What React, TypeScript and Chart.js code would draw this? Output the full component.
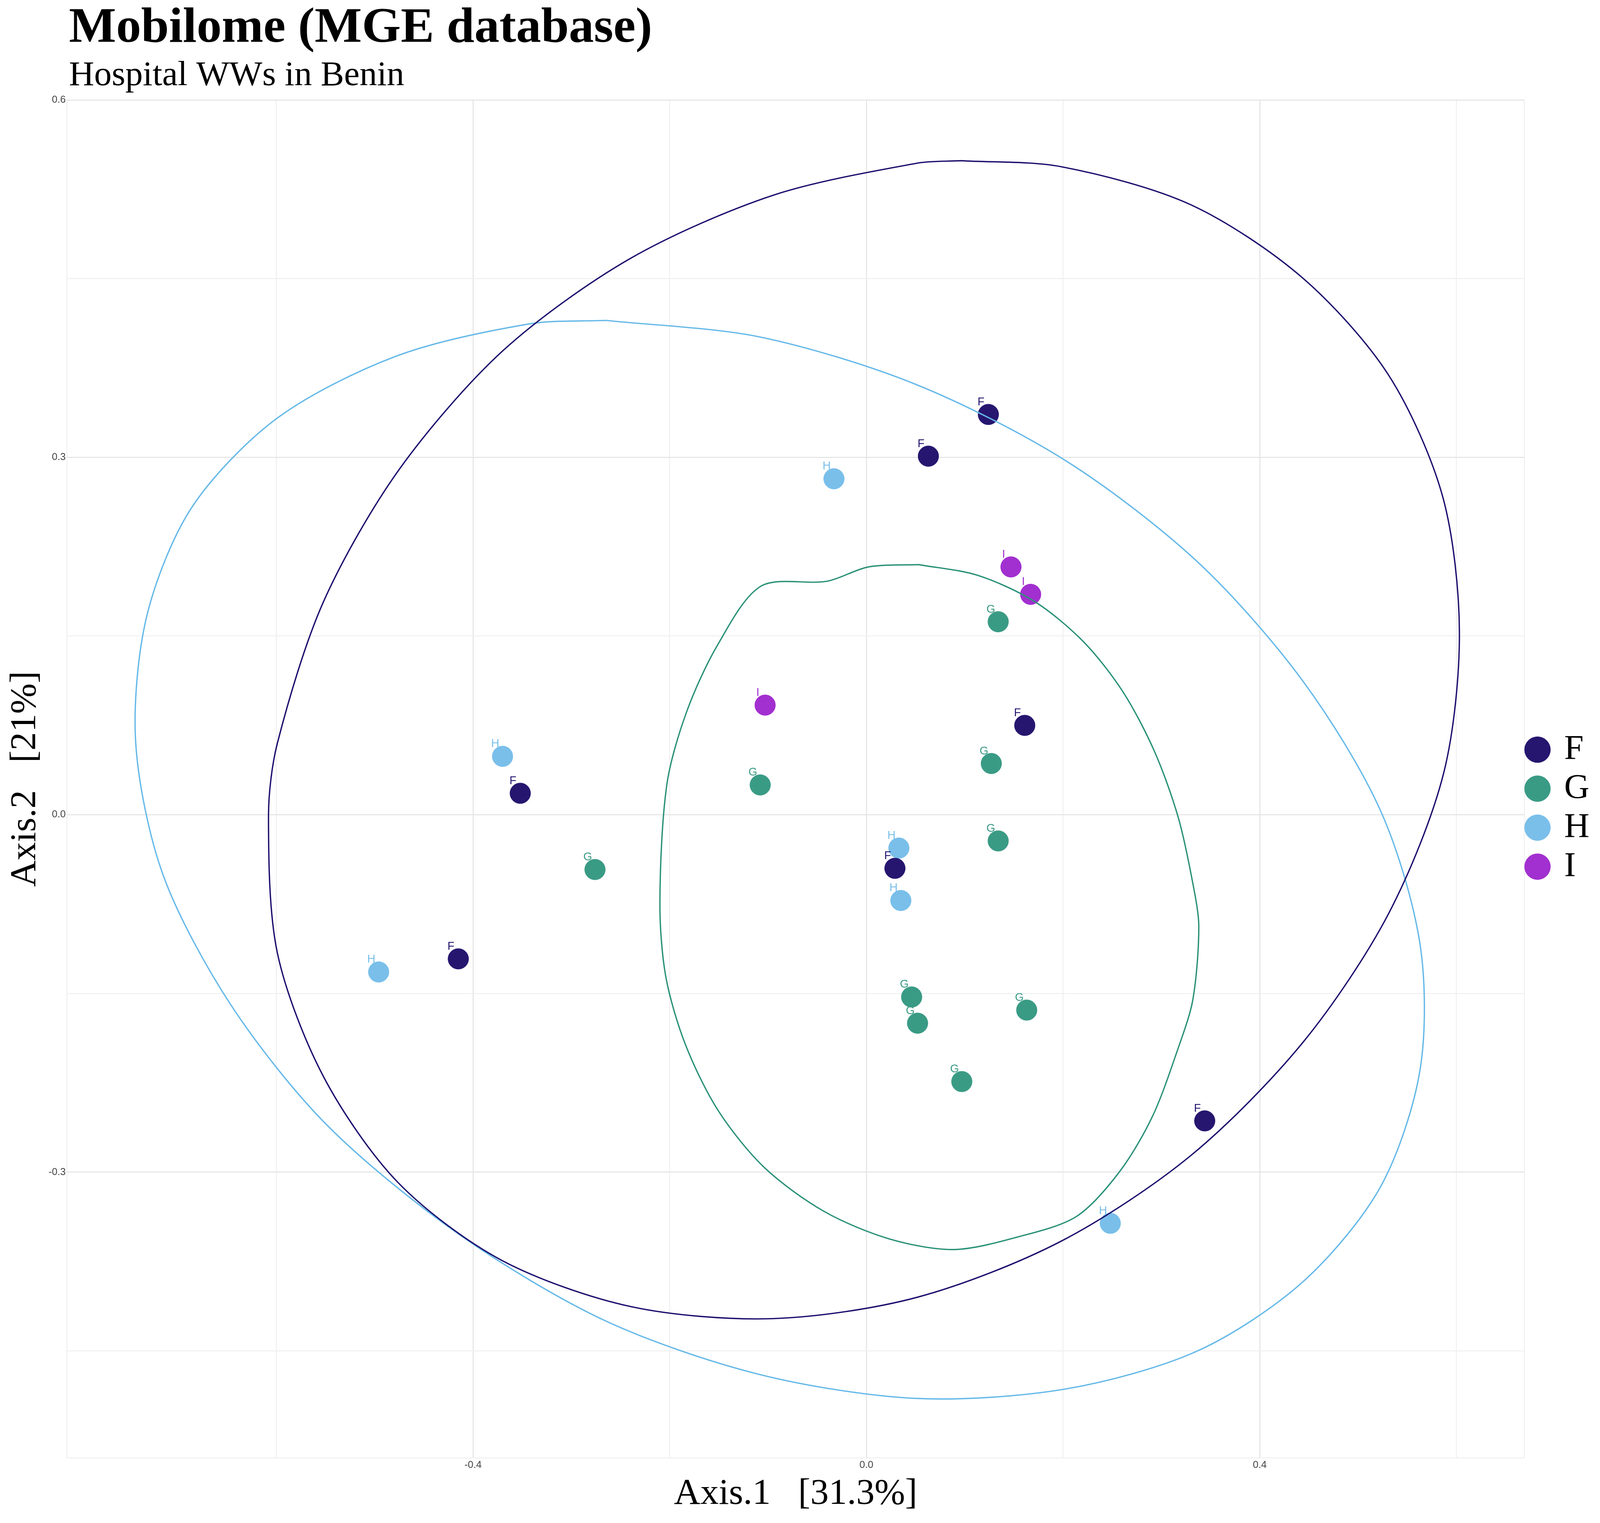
import { useEffect, useRef } from 'react';
import { Chart, registerables } from 'chart.js';

Chart.register(...registerables);

const groups = ['F', 'G', 'H', 'I'];
const pointColors = ['#26166f', '#3a9b85', '#79bfea', '#a22fcf'];
const ellipseColors = ['#1c0f6e', '#2a9178', '#66b9e8'];

const pointsF = [
  { x: 0.124, y: 0.336 }, { x: 0.063, y: 0.301 }, { x: 0.161, y: 0.075 },
  { x: -0.352, y: 0.018 }, { x: 0.029, y: -0.045 }, { x: -0.415, y: -0.121 },
  { x: 0.344, y: -0.257 },
];
const pointsG = [
  { x: 0.134, y: 0.162 }, { x: 0.127, y: 0.043 }, { x: -0.108, y: 0.025 },
  { x: 0.134, y: -0.022 }, { x: -0.276, y: -0.046 }, { x: 0.046, y: -0.153 },
  { x: 0.052, y: -0.175 }, { x: 0.163, y: -0.164 }, { x: 0.097, y: -0.224 },
];
const pointsH = [
  { x: -0.033, y: 0.282 }, { x: -0.37, y: 0.049 }, { x: 0.033, y: -0.028 },
  { x: 0.035, y: -0.072 }, { x: -0.496, y: -0.132 }, { x: 0.248, y: -0.343 },
];
const pointsI = [
  { x: 0.147, y: 0.208 }, { x: 0.167, y: 0.185 }, { x: -0.103, y: 0.092 },
];

const ellipseF = [
  [0.096, 0.549], [0.198, 0.544], [0.33, 0.512], [0.443, 0.451], [0.531, 0.369],
  [0.586, 0.267], [0.603, 0.153], [0.587, 0.035], [0.531, -0.083], [0.444, -0.191],
  [0.33, -0.286], [0.198, -0.358], [0.052, -0.405], [-0.095, -0.423], [-0.239, -0.413],
  [-0.371, -0.374], [-0.476, -0.309], [-0.552, -0.22], [-0.599, -0.116], [-0.608, -0.001],
  [-0.599, 0.06], [-0.552, 0.179], [-0.475, 0.29], [-0.369, 0.39], [-0.24, 0.467],
  [-0.095, 0.52], [0.052, 0.547], [0.096, 0.549],
];
const ellipseG = [
  [0.053, 0.21], [0.113, 0.201], [0.171, 0.179], [0.221, 0.145], [0.261, 0.103],
  [0.293, 0.053], [0.317, -0.002], [0.332, -0.058], [0.338, -0.094], [0.332, -0.155],
  [0.317, -0.196], [0.291, -0.253], [0.258, -0.299], [0.214, -0.337], [0.156, -0.354],
  [0.089, -0.365], [0.023, -0.356], [-0.043, -0.333], [-0.104, -0.296], [-0.151, -0.248],
  [-0.184, -0.193], [-0.204, -0.136], [-0.21, -0.074], [-0.203, 0.025], [-0.183, 0.086],
  [-0.151, 0.143], [-0.107, 0.192], [-0.04, 0.196], [0.002, 0.208], [0.053, 0.21],
];
const ellipseH = [
  [-0.265, 0.415], [-0.108, 0.401], [0.051, 0.361], [0.203, 0.297], [0.337, 0.212],
  [0.444, 0.112], [0.523, 0.003], [0.563, -0.109], [0.563, -0.214], [0.523, -0.312],
  [0.444, -0.392], [0.337, -0.45], [0.203, -0.482], [0.051, -0.49], [-0.108, -0.47],
  [-0.265, -0.425], [-0.413, -0.353], [-0.548, -0.261], [-0.646, -0.16], [-0.715, -0.051],
  [-0.743, 0.06], [-0.732, 0.166], [-0.686, 0.258], [-0.599, 0.333], [-0.478, 0.385],
  [-0.343, 0.412], [-0.265, 0.415],
];

const SERIF = '"Liberation Serif", "DejaVu Serif", serif';
const SANS = '"Liberation Sans", Arial, sans-serif';

const toXY = (arr: number[][]) => arr.map(([x, y]) => ({ x, y }));

export default function App() {
  const canvasRef = useRef<HTMLCanvasElement>(null);
  const chartRef = useRef<Chart | null>(null);

  useEffect(() => {
    document.body.style.margin = '0';
    if (!canvasRef.current) return;
    if (chartRef.current) chartRef.current.destroy();
    const ctx = canvasRef.current.getContext('2d');
    if (!ctx) return;

    // scale sizes to the real CSS viewport width
    const s = window.innerWidth / 4800;

    const extras = {
      id: 'extras',
      afterDatasetsDraw(chart: any) {
        const c = chart.ctx;
        c.save();
        c.font = `${34 * s}px ${SANS}`;
        c.textAlign = 'center';
        c.textBaseline = 'bottom';
        chart.data.datasets.forEach((ds: any, i: number) => {
          if (!ds.groupLabel) return;
          const meta = chart.getDatasetMeta(i);
          c.fillStyle = ds.backgroundColor;
          meta.data.forEach((el: any) => c.fillText(ds.groupLabel, el.x - 22 * s, el.y - 20 * s));
        });
        c.restore();
      },
      afterDraw(chart: any) {
        const c = chart.ctx;
        const left = chart.chartArea.left + 6 * s;
        c.save();
        c.fillStyle = '#000';
        c.textAlign = 'left';
        c.textBaseline = 'alphabetic';
        c.font = `bold ${150 * s}px ${SERIF}`;
        c.fillText('Mobilome (MGE database)', left, 125 * s);
        c.font = `${105 * s}px ${SERIF}`;
        c.fillText('Hospital WWs in Benin', left, 255 * s);
        c.restore();
      },
    };

    const pointSets = [pointsF, pointsG, pointsH, pointsI];
    const ellipses = [ellipseF, ellipseG, ellipseH];

    chartRef.current = new Chart(ctx, {
      type: 'scatter',
      data: {
        datasets: [
          ...ellipses.map((e, i) => ({
            label: 'ellipse' + groups[i],
            data: toXY(e),
            showLine: true,
            borderColor: ellipseColors[i],
            borderWidth: 4 * s,
            pointRadius: 0,
            fill: false,
            tension: 0.3,
          })),
          ...pointSets.map((p, i) => ({
            label: groups[i],
            groupLabel: groups[i],
            data: p,
            backgroundColor: pointColors[i],
            borderColor: pointColors[i],
            pointRadius: 31 * s,
            pointHoverRadius: 31 * s,
          })),
        ] as any,
      },
      options: {
        responsive: true,
        maintainAspectRatio: false,
        animation: false,
        layout: { padding: { top: 300 * s, right: 20 * s, left: 10 * s, bottom: 20 * s } },
        plugins: {
          title: { display: false },
          tooltip: { enabled: false },
          legend: {
            position: 'right',
            labels: {
              filter: (item: any) => !item.text.startsWith('ellipse'),
              usePointStyle: true,
              pointStyle: 'circle',
              boxWidth: 55 * s,
              boxHeight: 55 * s,
              padding: 12 * s,
              color: '#000',
              font: { family: SERIF, size: 105 * s },
            },
          },
        },
        scales: {
          x: {
            min: -0.813,
            max: 0.669,
            ticks: {
              stepSize: 0.2,
              color: '#444',
              font: { family: SANS, size: 30 * s },
              callback: (v: any) => (Math.abs(Math.round(v / 0.4) * 0.4 - v) < 1e-6 ? Number(v).toFixed(1) : ''),
            },
            grid: {
              color: (c: any) => (Math.abs(Math.round(c.tick.value / 0.4) * 0.4 - c.tick.value) < 1e-6 ? '#e3e3e3' : '#f0f0f0'),
              lineWidth: 3 * s,
              drawTicks: false,
            },
            border: { display: false },
            title: { display: true, text: 'Axis.1   [31.3%]', color: '#000', font: { family: SERIF, size: 110 * s }, padding: 0 },
          },
          y: {
            min: -0.54,
            max: 0.6,
            ticks: {
              stepSize: 0.15,
              color: '#444',
              font: { family: SANS, size: 30 * s },
              callback: (v: any) => (Math.abs(Math.round(v / 0.3) * 0.3 - v) < 1e-6 ? Number(v).toFixed(1) : ''),
            },
            grid: {
              color: (c: any) => (Math.abs(Math.round(c.tick.value / 0.3) * 0.3 - c.tick.value) < 1e-6 ? '#e3e3e3' : '#f0f0f0'),
              lineWidth: 3 * s,
              drawTicks: false,
            },
            border: { display: false },
            title: { display: true, text: 'Axis.2   [21%]', color: '#000', font: { family: SERIF, size: 110 * s }, padding: 0 },
          },
        },
      },
      plugins: [extras],
    });

    return () => {
      if (chartRef.current) chartRef.current.destroy();
    };
  }, []);

  return (
    <div style={{ position: 'fixed', left: 0, top: 0, width: '100vw', height: '100vh', background: '#fff' }}>
      <canvas ref={canvasRef} />
    </div>
  );
}
